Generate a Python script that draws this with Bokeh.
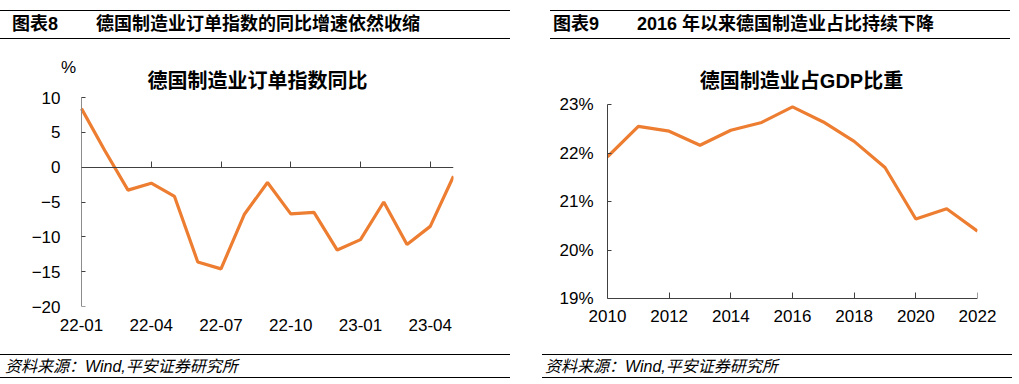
from bokeh.plotting import figure
from bokeh.models import Label, LinearAxis, FixedTicker, Range1d, Div
from bokeh.layouts import row, column
from bokeh.embed import file_html
from bokeh.resources import INLINE

# ---------------- data ----------------
months = ["22-01", "22-02", "22-03", "22-04", "22-05", "22-06", "22-07", "22-08", "22-09",
          "22-10", "22-11", "22-12", "23-01", "23-02", "23-03", "23-04", "23-05"]
orders_yoy = [8.4, 2.4, -3.3, -2.3, -4.2, -13.6, -14.6, -6.8, -2.2,
              -6.7, -6.5, -11.9, -10.4, -5.0, -11.1, -8.5, -1.3]
month_tick_labels = ["22-01", "22-04", "22-07", "22-10", "23-01", "23-04"]
orders_y_ticks = [-20, -15, -10, -5, 0, 5, 10]

years = [2010, 2011, 2012, 2013, 2014, 2015, 2016, 2017, 2018, 2019, 2020, 2021, 2022]
mfg_share = [21.92, 22.55, 22.45, 22.16, 22.47, 22.63, 22.95, 22.64, 22.24, 21.70, 20.64, 20.85, 20.39]
year_ticks = [2010, 2012, 2014, 2016, 2018, 2020, 2022]
share_y_ticks = [19, 20, 21, 22, 23]

header_left = ("图表8", "德国制造业订单指数的同比增速依然收缩")
header_right = ("图表9", "2016 年以来德国制造业占比持续下降")
title_left = "德国制造业订单指数同比"
title_right = "德国制造业占GDP比重"
unit_left = "%"
source_text = "资料来源：Wind,平安证券研究所"

# ---------------- style ----------------
FONT = "'Liberation Sans', 'Noto Sans CJK SC'"
ORANGE = "#ED7D31"
AXIS = "#404040"
AXIS_LIGHT = "#8C8C8C"
W1, W2 = 510, 509
HDR_H, FIG_H, FTR_H = 40, 310, 34
TICK_SIZE = "17px"


def strip(width, height, lines, texts):
    parts = [f'<div style="position:relative;width:{width}px;height:{height}px;">']
    for (x0, x1, y) in lines:
        parts.append(f'<div style="position:absolute;left:{x0}px;top:{y}px;width:{x1 - x0}px;'
                     f'height:1.4px;background:#000;"></div>')
    for (x, y, s, size, st) in texts:
        parts.append(f'<span style="position:absolute;left:{x}px;top:{y}px;transform:translateY(-50%);'
                     f'font:{st} {size}px {FONT};line-height:1.2;white-space:nowrap;color:#000;">{s}</span>')
    parts.append('</div>')
    return Div(text="".join(parts), width=width, height=height, margin=0)


def style_axis(ax):
    ax.axis_line_color = AXIS
    ax.axis_line_width = 1
    ax.major_tick_line_color = AXIS
    ax.minor_tick_line_color = None
    ax.major_label_text_font = FONT
    ax.major_label_text_font_size = TICK_SIZE
    ax.major_label_text_color = "black"


def labels_only(ax, standoff):
    style_axis(ax)
    ax.axis_line_color = None
    ax.major_tick_line_color = None
    ax.major_tick_in = 0
    ax.major_tick_out = 0
    ax.major_label_standoff = standoff


def line_only(ax, tick_in, tick_out):
    style_axis(ax)
    ax.major_label_text_font_size = "1px"
    ax.major_label_text_color = None
    ax.major_label_standoff = 0
    ax.major_tick_in = tick_in
    ax.major_tick_out = tick_out


def base_fig(width, xr, yr, left, right, top, bottom):
    p = figure(width=width, height=FIG_H, output_backend="svg", toolbar_location=None,
               x_range=xr, y_range=yr, min_border_left=left, min_border_right=right,
               min_border_top=top, min_border_bottom=bottom,
               x_axis_type=None, y_axis_type=None)
    p.outline_line_color = None
    p.grid.visible = False
    p.background_fill_color = "white"
    p.border_fill_color = "white"
    return p


def label(p, x, y, s, size, bold=False):
    p.add_layout(Label(x=x, y=y, text=s, text_font=FONT, text_font_size=f"{size}px",
                       text_font_style="bold" if bold else "normal",
                       text_align="center", text_baseline="middle", text_color="black"))


# frame geometry (page pixels; figure row starts at HDR_H)
FR_TOP, FR_BOT = 56, 306
# left chart: index 0..16 at px 81..453, 10 at 97, -20 at 306
L_X0, L_X1, L_FRAME_LEFT = 81, 453, 60
L_Y10, L_Ym20 = 97, 306
l_dx = (L_X1 - L_X0) / (len(months) - 1)
l_dy = (L_Ym20 - L_Y10) / 30.0
l_xr = Range1d(-(L_X0 - L_FRAME_LEFT) / l_dx, len(months) - 1)
l_yr = Range1d(-20, 10 + (L_Y10 - FR_TOP) / l_dy)

# right chart: 2010 at 607, 2022 at 977, 23% at 104, 19% at 298
R_X0, R_X1 = 607 - W1, 977 - W1
R_Y23, R_Y19 = 104, 298
r_dy = (R_Y19 - R_Y23) / 4.0
r_dx = (R_X1 - R_X0) / (years[-1] - years[0])
r_yr = Range1d(19 - (FR_BOT - R_Y19) / r_dy, 23 + (R_Y23 - FR_TOP) / r_dy)
r_xr = Range1d(years[0], years[-1])

fig_top = FR_TOP - HDR_H
fig_bot = HDR_H + FIG_H - FR_BOT

# ---------------- left chart ----------------
p1 = base_fig(W1, l_xr, l_yr, L_FRAME_LEFT, W1 - L_X1, fig_top, fig_bot)
idx = list(range(len(months)))
p1.line(idx, orders_yoy, line_color=ORANGE, line_width=3.2)

tick_idx = [months.index(m) for m in month_tick_labels]
xb = LinearAxis(ticker=FixedTicker(ticks=tick_idx),
                major_label_overrides={i: months[i] for i in tick_idx})
labels_only(xb, 12)
p1.add_layout(xb, "below")

x0 = LinearAxis(ticker=FixedTicker(ticks=tick_idx), fixed_location=0, bounds=(0, len(months) - 1))
line_only(x0, 0, 6)
p1.add_layout(x0, "above")

yl = LinearAxis(ticker=FixedTicker(ticks=orders_y_ticks))
labels_only(yl, 0)
p1.add_layout(yl, "left")

y1 = LinearAxis(ticker=FixedTicker(ticks=orders_y_ticks), fixed_location=0, bounds=(-20, 10))
line_only(y1, 4, 0)
y1.axis_line_color = AXIS_LIGHT
p1.add_layout(y1, "left")

label(p1, (68 - L_X0) / l_dx, 10 + (L_Y10 - 67) / l_dy, unit_left, 17)
label(p1, (257 - L_X0) / l_dx, 10 + (L_Y10 - 80) / l_dy, title_left, 20, bold=True)

# ---------------- right chart ----------------
p2 = base_fig(W2, r_xr, r_yr, R_X0, W2 - R_X1, fig_top, fig_bot)
p2.line(years, mfg_share, line_color=ORANGE, line_width=3.2)

xl2 = LinearAxis(ticker=FixedTicker(ticks=year_ticks))
labels_only(xl2, 3)
p2.add_layout(xl2, "below")

x2 = LinearAxis(ticker=FixedTicker(ticks=year_ticks), fixed_location=19)
line_only(x2, 0, 6)
p2.add_layout(x2, "above")

y2 = LinearAxis(ticker=FixedTicker(ticks=share_y_ticks), bounds=(19, 23),
                major_label_overrides={t: f"{t}%" for t in share_y_ticks})
style_axis(y2)
y2.major_tick_in = 4
y2.major_tick_out = 0
y2.major_label_standoff = 14
p2.add_layout(y2, "left")

label(p2, years[0] + (801 - W1 - R_X0) / r_dx, 23 + (R_Y23 - 80) / r_dy, title_right, 20, bold=True)

# ---------------- headers / footers ----------------
h1 = strip(W1, HDR_H, [(0, W1, 10), (0, W1, 38)],
           [(12, 25, header_left[0], 18, "bold"), (96, 25, header_left[1], 18, "bold")])
h2 = strip(W2, HDR_H, [(40, 500, 10), (40, 500, 38)],
           [(43, 25, header_right[0], 18, "bold"), (127, 25, header_right[1], 18, "bold")])
f1 = strip(W1, FTR_H, [(0, W1, 4), (0, W1, 27)],
           [(5, 17, source_text, 16, "italic")])
f2 = strip(W2, FTR_H, [(32, 502, 4), (32, 502, 27)],
           [(35, 17, source_text, 16, "italic")])

layout = column(row(h1, h2), row(p1, p2), row(f1, f2))
open("out.html", "w").write(file_html(layout, INLINE))
